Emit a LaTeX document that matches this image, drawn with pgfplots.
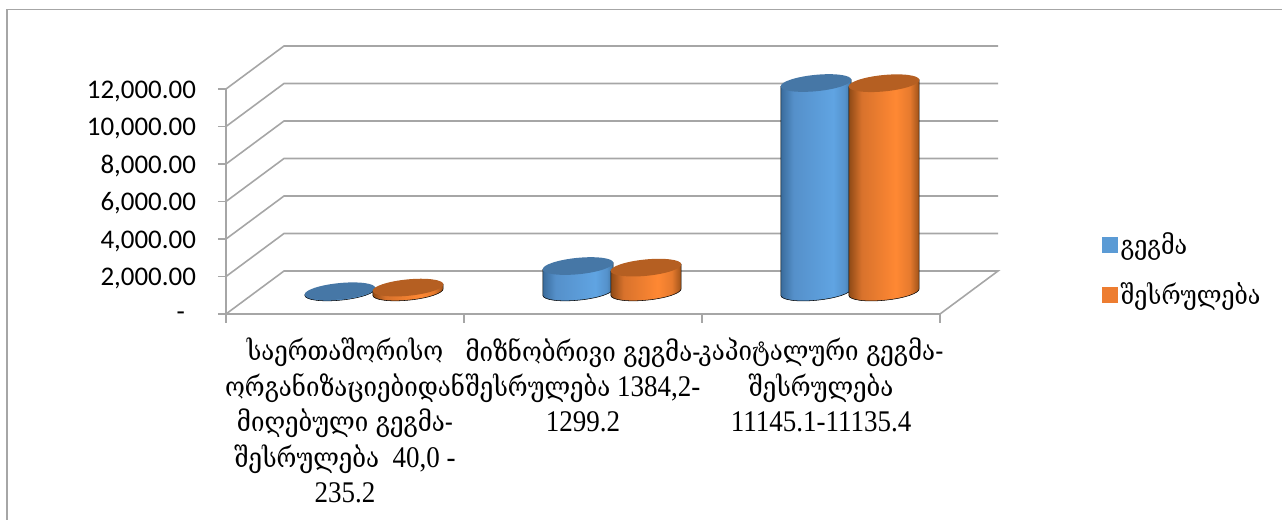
\documentclass[border=0pt]{standalone}
\usepackage{fontspec}
\setmainfont[FakeStretch=0.9]{Liberation Serif}
\newfontfamily\geofont[FakeStretch=0.88]{DejaVu Serif}
\newfontfamily\tickfont{Carlito}
\newcommand\g[1]{{\geofont\fontsize{20.5}{26.6}\selectfont #1}}
\usepackage{pgfplots}
\pgfplotsset{compat=1.18}
\definecolor{gridgray}{HTML}{A6A6A6}
\definecolor{legblue}{HTML}{5B9BD5}
\definecolor{legorange}{HTML}{ED7D31}
\definecolor{topblue}{HTML}{4677A6}
\definecolor{toporange}{HTML}{B55F22}
\definecolor{ba}{HTML}{3A6C9C}
\definecolor{bb}{HTML}{5590CA}
\definecolor{bc}{HTML}{60A4E2}
\definecolor{bd}{HTML}{5592CC}
\definecolor{be}{HTML}{42759F}
\definecolor{oa}{HTML}{8F4A16}
\definecolor{ob}{HTML}{D8722C}
\definecolor{oc}{HTML}{FF8833}
\definecolor{od}{HTML}{E67A2E}
\definecolor{oe}{HTML}{9A5018}
\pgfdeclarehorizontalshading{cylblue}{100bp}{color(0bp)=(ba);color(25bp)=(ba);color(34bp)=(bb);color(62bp)=(bc);color(70bp)=(bd);color(75bp)=(be);color(100bp)=(be)}
\pgfdeclarehorizontalshading{cylorange}{100bp}{color(0bp)=(oa);color(25bp)=(oa);color(34bp)=(ob);color(58bp)=(oc);color(68bp)=(od);color(75bp)=(oe);color(100bp)=(oe)}
% cylinder mark: origin is the value point on the front plane, \cylv is the value
\newcommand\declarecyl[4]{%
\pgfdeclareplotmark{#1}{%
  \pgfmathsetlengthmacro\cylh{\cylv*0.0140625pt}%
  \pgftransformshift{\pgfqpoint{#2}{16.5pt}}%
  \path[shading=#3] (-26.4pt,-2.6pt) -- (-26.4pt,-2.6pt-\cylh)
    .. controls (-26pt,-5.97pt-\cylh) and (-13.9pt,-7.54pt-\cylh) .. (0.7pt,-6.1pt-\cylh)
    .. controls (15.3pt,-4.66pt-\cylh) and (26.8pt,-0.77pt-\cylh) .. (26.4pt,2.6pt-\cylh)
    -- (26.4pt,2.6pt) -- cycle;
  \pgfsetfillcolor{#4}%
  \pgfpathellipse{\pgfpointorigin}{\pgfqpoint{26.5pt}{2.6pt}}{\pgfqpoint{-0.7pt}{6.1pt}}%
  \pgfusepathqfill}}
\declarecyl{cylmarkblue}{-3.75pt}{cylblue}{topblue}
\declarecyl{cylmarkorange}{47.25pt}{cylorange}{toporange}
\pgfplotsset{
  gridline/.style={gridgray,line width=1.2pt,no markers,forget plot},
  cylplot/.style={scatter,only marks,mark=#1,
    visualization depends on={\thisrow{v} \as \cylv},
    scatter/@pre marker code/.code={},
    scatter/@post marker code/.code={}},
}
\pgfplotstableread{
x v
0.5 40.0
1.5 1384.2
2.5 11145.1
}\planned
\pgfplotstableread{
x v
0.5 235.2
1.5 1299.2
2.5 11135.4
}\done
\begin{document}
\begin{tikzpicture}
\useasboundingbox (0,0) rectangle (961.5pt,390pt);
\draw[gridgray,line width=1pt] (5.2pt,0) -- (5.2pt,382.7pt) -- (961.5pt,382.7pt);
\begin{axis}[
  at={(169.5pt,154.5pt)},anchor=south west,
  scale only axis,width=535.5pt,height=168.75pt,
  xmin=0,xmax=3,ymin=0,ymax=12000,
  clip=false,
  scaled y ticks=false,
  axis x line*=bottom,axis y line*=left,
  axis line style={-,gridgray,line width=1.2pt},
  tick align=outside,
  xtick={0.5,1.5,2.5},
  minor xtick={0,1,2,3},
  major x tick style={draw=none},
  minor x tick style={gridgray,line width=1pt},
  minor tick length=6.5pt,
  y tick style={gridgray,line width=1pt},
  major tick length=6pt,
  ytick={0,2000,4000,6000,8000,10000,12000},
  yticklabels={-\rule{8.25pt}{0pt},{2,000.00},{4,000.00},{6,000.00},{8,000.00},{10,000.00},{12,000.00}},
  yticklabel style={font=\tickfont\fontsize{20.2}{22}\selectfont,xshift=-13pt,yshift=-1.5pt},
  xticklabels={
    {\g{საერთაშორისო}\\\g{ორგანიზაციებიდან}\\\g{მიღებული გეგმა-}\\\g{შესრულება}\ \ 40,0 -\\235.2},
    {\g{მიზნობრივი გეგმა-}\\\g{შესრულება} 1384,2-\\1299.2},
    {\g{კაპიტალური გეგმა-}\\\g{შესრულება}\\11145.1-11135.4}},
  xticklabel style={align=center,anchor=north,yshift=-8.5pt,font=\fontsize{22.5}{26.6}\selectfont},
  legend style={draw=none,fill=none,anchor=west,
    at={(1.2216,0.1975)},row sep=15.5pt,
    font=\geofont\fontsize{19.8}{22}\selectfont},
  legend cell align=left,
]
\addplot[gridline] coordinates {(0,0) (0.2437,2293) (3.2437,2293) (3,0)};
\addplot[gridline] coordinates {(0,2000) (0.2437,4293) (3.2437,4293)};
\addplot[gridline] coordinates {(0,4000) (0.2437,6293) (3.2437,6293)};
\addplot[gridline] coordinates {(0,6000) (0.2437,8293) (3.2437,8293)};
\addplot[gridline] coordinates {(0,8000) (0.2437,10293) (3.2437,10293)};
\addplot[gridline] coordinates {(0,10000) (0.2437,12293) (3.2437,12293)};
\addplot[gridline] coordinates {(0,12000) (0.2437,14293) (3.2437,14293)};
\addplot[cylplot=cylmarkblue,
  legend image code/.code={\fill[legblue] (0pt,-5.6pt) rectangle (11.2pt,5.6pt);}]
  table[x=x,y=v] {\planned};
\addlegendentry{გეგმა}
\addplot[cylplot=cylmarkorange,
  legend image code/.code={\fill[legorange] (0pt,-5.6pt) rectangle (11.2pt,5.6pt);}]
  table[x=x,y=v] {\done};
\addlegendentry{შესრულება}
\end{axis}
\end{tikzpicture}
\end{document}
